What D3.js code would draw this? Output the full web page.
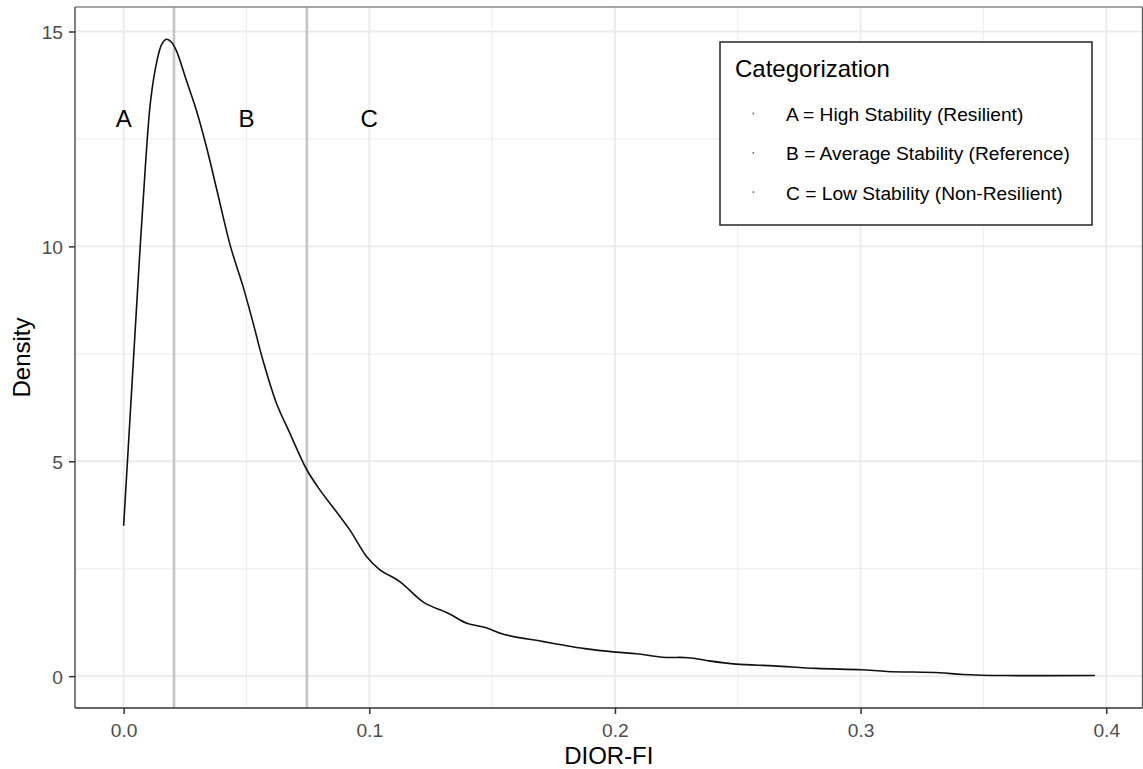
<!DOCTYPE html>
<html>
<head>
<meta charset="utf-8">
<script src="https://cdn.jsdelivr.net/npm/d3@7"></script>
<style>
  html, body { margin: 0; padding: 0; background: #ffffff; }
  svg { display: block; font-family: "Liberation Sans", Arial, Helvetica, sans-serif; }
</style>
</head>
<body>
<svg id="chart" width="1143" height="769"></svg>
<script>
// ---- data ----
const dioX = [0.000, 0.003, 0.006, 0.009, 0.011, 0.0135, 0.0155, 0.0174, 0.0195, 0.0215,
  0.0255, 0.0296, 0.0337, 0.0380, 0.0435, 0.0486, 0.0527, 0.0567, 0.0622, 0.0676,
  0.0744, 0.0798, 0.0860, 0.0920, 0.0988, 0.1042, 0.1124, 0.1223, 0.1319, 0.1397,
  0.1473, 0.1550, 0.1704, 0.1781, 0.1877, 0.2002, 0.2089, 0.2195, 0.2300, 0.2377,
  0.2493, 0.2647, 0.2820, 0.3002, 0.3108, 0.3320, 0.3416, 0.3589, 0.3954];
const density = [3.50, 6.40, 9.30, 12.00, 13.40, 14.30, 14.70, 14.82, 14.75, 14.55,
  13.87, 13.17, 12.32, 11.30, 10.00, 9.07, 8.22, 7.35, 6.35, 5.66,
  4.82, 4.34, 3.87, 3.41, 2.79, 2.48, 2.20, 1.71, 1.47, 1.23,
  1.13, 0.97, 0.81, 0.73, 0.64, 0.56, 0.52, 0.44, 0.43, 0.36,
  0.28, 0.24, 0.18, 0.15, 0.11, 0.08, 0.04, 0.015, 0.015];
const cutoffs = [0.0205, 0.0746];
const regionLabels = ["A", "B", "C"];
const regionLabelX = [0.0, 0.05, 0.1];
const regionLabelY = 13;
const legendTitle = "Categorization";
const legendItems = ["A = High Stability (Resilient)", "B = Average Stability (Reference)", "C = Low Stability (Non-Resilient)"];
const xTicks = [0, 0.1, 0.2, 0.3, 0.4];
const xMinor = [0.05, 0.15, 0.25, 0.35];
const yTicks = [0, 5, 10, 15];
const yMinor = [2.5, 7.5, 12.5];
const xTitle = "DIOR-FI";
const yTitle = "Density";

// ---- layout ----
const panel = { left: 75, right: 1142.6, top: 7, bottom: 708 };
const svg = d3.select("#chart");
const x = d3.scaleLinear().domain([-0.0198, 0.4148]).range([panel.left, panel.right]);
const y = d3.scaleLinear().domain([-0.741, 15.57]).range([panel.bottom, panel.top]);

const grid = svg.append("g");
grid.selectAll("line.xm").data(xMinor).join("line")
  .attr("x1", d => x(d)).attr("x2", d => x(d))
  .attr("y1", panel.top).attr("y2", panel.bottom)
  .attr("stroke", "#ebebeb").attr("stroke-width", 0.9);
grid.selectAll("line.ym").data(yMinor).join("line")
  .attr("x1", panel.left).attr("x2", panel.right)
  .attr("y1", d => y(d)).attr("y2", d => y(d))
  .attr("stroke", "#ebebeb").attr("stroke-width", 0.9);
grid.selectAll("line.xM").data(xTicks).join("line")
  .attr("x1", d => x(d)).attr("x2", d => x(d))
  .attr("y1", panel.top).attr("y2", panel.bottom)
  .attr("stroke", "#ebebeb").attr("stroke-width", 1.8);
grid.selectAll("line.yM").data(yTicks).join("line")
  .attr("x1", panel.left).attr("x2", panel.right)
  .attr("y1", d => y(d)).attr("y2", d => y(d))
  .attr("stroke", "#ebebeb").attr("stroke-width", 1.8);

// cutoff vertical lines
svg.append("g").selectAll("line").data(cutoffs).join("line")
  .attr("x1", d => x(d)).attr("x2", d => x(d))
  .attr("y1", panel.top).attr("y2", panel.bottom)
  .attr("stroke", "#c4c4c4").attr("stroke-width", 2.6);

// density curve
const pts = dioX.map((v, i) => [v, density[i]]);
const line = d3.line().x(d => x(d[0])).y(d => y(d[1])).curve(d3.curveCatmullRom.alpha(0.5));
svg.append("path").datum(pts)
  .attr("d", line).attr("fill", "none")
  .attr("stroke", "#111111").attr("stroke-width", 1.6);

// region labels
svg.append("g").selectAll("text").data(regionLabels).join("text")
  .attr("x", (d, i) => x(regionLabelX[i]))
  .attr("y", y(regionLabelY) + 10)
  .attr("text-anchor", "middle")
  .attr("font-size", 24).attr("fill", "#000")
  .text(d => d);

// panel border
const border = svg.append("g");
border.append("line").attr("x1", panel.left).attr("x2", panel.right).attr("y1", panel.top).attr("y2", panel.top)
  .attr("stroke", "#888").attr("stroke-width", 1.5);
border.append("line").attr("x1", panel.left).attr("x2", panel.left).attr("y1", panel.top).attr("y2", panel.bottom)
  .attr("stroke", "#555").attr("stroke-width", 1.5);
border.append("line").attr("x1", panel.left).attr("x2", panel.right).attr("y1", panel.bottom).attr("y2", panel.bottom)
  .attr("stroke", "#333").attr("stroke-width", 1.5);
border.append("line").attr("x1", panel.right).attr("x2", panel.right).attr("y1", panel.top).attr("y2", panel.bottom)
  .attr("stroke", "#555").attr("stroke-width", 1.5);

// axes
const xAxis = d3.axisBottom(x).tickValues(xTicks).tickFormat(d3.format(".1f")).tickSize(6).tickPadding(5);
const gx = svg.append("g").attr("transform", `translate(0,${panel.bottom})`).call(xAxis);
gx.select(".domain").remove();
gx.selectAll(".tick line").attr("stroke", "#333").attr("stroke-width", 1.5);
gx.selectAll(".tick text").attr("font-size", 19.2).attr("fill", "#4d4d4d")
  .attr("font-family", "Liberation Sans, Arial, sans-serif").attr("dy", null).attr("y", 29);

const yAxis = d3.axisLeft(y).tickValues(yTicks).tickFormat(d3.format("d")).tickSize(6).tickPadding(5);
const gy = svg.append("g").attr("transform", `translate(${panel.left},0)`).call(yAxis);
gy.select(".domain").remove();
gy.selectAll(".tick line").attr("stroke", "#333").attr("stroke-width", 1.5);
gy.selectAll(".tick text").attr("font-size", 19.2).attr("fill", "#4d4d4d")
  .attr("font-family", "Liberation Sans, Arial, sans-serif").attr("dy", "0.36em").attr("x", -12);

// axis titles
svg.append("text").attr("x", (panel.left + panel.right) / 2).attr("y", 764)
  .attr("text-anchor", "middle").attr("font-size", 24).attr("fill", "#000").text(xTitle);
svg.append("text").attr("transform", `translate(30,${(panel.top + panel.bottom) / 2}) rotate(-90)`)
  .attr("text-anchor", "middle").attr("font-size", 24).attr("fill", "#000").text(yTitle);

// legend
const lg = svg.append("g");
lg.append("rect").attr("x", 720).attr("y", 42).attr("width", 372).attr("height", 183)
  .attr("fill", "#fff").attr("stroke", "#333").attr("stroke-width", 1.6);
lg.append("text").attr("x", 735).attr("y", 77).attr("font-size", 24).attr("fill", "#000").text(legendTitle);
const legendBaselines = [121, 160.4, 199.6];
lg.selectAll("circle").data(legendItems).join("circle")
  .attr("cx", 753.3).attr("cy", (d, i) => legendBaselines[i] - 7.5)
  .attr("r", 0.9).attr("fill", "#666");
lg.selectAll("text.item").data(legendItems).join("text")
  .attr("class", "item")
  .attr("x", 786).attr("y", (d, i) => legendBaselines[i])
  .attr("font-size", 19.2).attr("fill", "#000").text(d => d);
</script>
</body>
</html>
